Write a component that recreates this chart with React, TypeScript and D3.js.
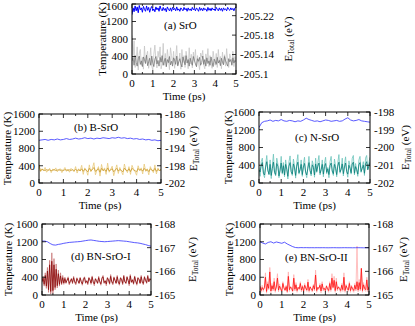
import { useEffect, useRef } from "react";
import * as d3 from "d3";

// time axis shared by all panels (ps)
const TIME_MAX = 5;
const TIME_TICKS = [0, 1, 2, 3, 4, 5];
const TIME_MINOR = [0.5, 1.5, 2.5, 3.5, 4.5];
const TEMP_TICKS = [0, 400, 800, 1200, 1600];

// (a) SrO
const srOLight = [880, 420, 760, 150, 300, 620, 90, 480, 560, 200, 380, 110, 640, 250, 420, 520, 130, 300, 600, 180, 90, 450, 660, 300, 140, 520, 380, 620, 120, 250, 700, 200, 470, 160, 560, 330, 100, 600, 420, 240, 520, 130, 380, 650, 180, 300, 480, 110, 560, 260, 420, 150, 520, 350, 120, 600, 230, 450, 140, 500, 300, 560, 160, 420, 250, 100, 480, 380, 540, 200, 120, 460, 300, 580, 170, 420, 260, 130, 520, 340, 200, 470, 150, 560, 280, 400, 120, 500, 230, 440, 180, 580, 300, 150, 460, 360, 220, 520, 170, 400, 300];
const srODark = [300, 380, 200, 420, 260, 180, 350, 410, 220, 300, 170, 390, 330, 240, 430, 190, 280, 360, 200, 410, 250, 170, 340, 400, 230, 310, 180, 380, 270, 420, 200, 300, 360, 170, 330, 260, 400, 210, 290, 180, 370, 320, 220, 410, 190, 280, 350, 240, 160, 390, 300, 210, 420, 250, 330, 180, 360, 270, 200, 400, 310, 230, 170, 350, 290, 380, 200, 260, 410, 220, 330, 180, 370, 240, 300, 200, 390, 260, 170, 340, 290, 220, 380, 250, 310, 190, 360, 270, 210, 400, 300, 240, 180, 350, 280, 330, 200, 370, 250, 310, 280];
const srOEnergy = [-205.222, -205.236, -205.228, -205.24, -205.23, -205.238, -205.226, -205.241, -205.232, -205.236, -205.227, -205.239, -205.233, -205.229, -205.24, -205.231, -205.237, -205.227, -205.235, -205.239, -205.23, -205.234, -205.228, -205.238, -205.232, -205.236, -205.229, -205.24, -205.233, -205.23, -205.237, -205.231, -205.235, -205.228, -205.238, -205.233, -205.23, -205.236, -205.229, -205.237, -205.232, -205.235, -205.23, -205.238, -205.231, -205.234, -205.229, -205.236, -205.233, -205.23, -205.237, -205.232, -205.235, -205.229, -205.236, -205.231, -205.234, -205.23, -205.237, -205.232, -205.235, -205.23, -205.236, -205.233, -205.229, -205.237, -205.231, -205.235, -205.23, -205.236, -205.232, -205.234, -205.229, -205.237, -205.231, -205.235, -205.23, -205.236, -205.232, -205.234, -205.23, -205.237, -205.233, -205.23, -205.236, -205.231, -205.235, -205.229, -205.236, -205.232, -205.234, -205.23, -205.237, -205.233, -205.231, -205.236, -205.232, -205.235, -205.23, -205.236, -205.238];
const srOEnergyTicks = [-205.1, -205.14, -205.18, -205.22];

// (b) B-SrO
const bLight = [430, 260, 330, 280, 360, 250, 300, 340, 240, 320, 290, 350, 260, 310, 330, 240, 300, 360, 270, 320, 250, 340, 300, 260, 380, 230, 330, 290, 410, 200, 350, 300, 180, 420, 260, 340, 470, 190, 300, 380, 160, 430, 280, 350, 200, 460, 250, 320, 390, 170, 300, 420, 220, 360, 270, 190, 440, 300, 240, 380, 200, 410, 320, 260, 180, 400, 290, 350, 210, 440, 270, 330, 190, 380, 300, 240, 420, 210, 350, 280, 330];
const bDark = [400, 280, 320, 300, 290, 310, 295, 305, 285, 300, 310, 290, 300, 305, 295, 300, 290, 310, 300, 295, 305, 290, 310, 285, 315, 290, 305, 280, 330, 270, 320, 295, 260, 340, 285, 310, 360, 270, 300, 330, 250, 340, 290, 310, 270, 350, 280, 305, 330, 260, 300, 340, 275, 315, 290, 260, 345, 300, 280, 330, 265, 340, 305, 285, 260, 335, 295, 315, 275, 340, 290, 310, 265, 330, 300, 280, 340, 270, 315, 290, 305];
const bEnergy = [-192.1, -192.0, -191.9, -192.1, -191.9, -192.0, -191.8, -192.0, -191.9, -191.7, -191.9, -191.8, -191.6, -191.8, -191.7, -191.5, -191.7, -191.6, -191.8, -191.6, -191.7, -191.5, -191.6, -191.7, -191.5, -191.6, -191.4, -191.6, -191.5, -191.7, -191.6, -191.8, -191.7, -191.9, -191.8, -192.0, -191.9, -192.1, -192.0, -192.2, -192.1];
const bEnergyTicks = [-202, -198, -194, -190, -186];

// (c) N-SrO
const cLight = [350, 150, 480, 560, 200, 120, 420, 620, 300, 180, 520, 100, 380, 650, 240, 160, 560, 430, 120, 300, 600, 200, 460, 140, 520, 330, 90, 480, 610, 250, 170, 540, 380, 110, 450, 640, 200, 300, 520, 150, 420, 580, 230, 120, 360, 600, 280, 160, 500, 400, 130, 560, 240, 460, 620, 180, 300, 520, 140, 440, 580, 210, 350, 120, 480, 600, 260, 170, 540, 380, 140, 460, 640, 220, 310, 560, 160, 420, 590, 250, 130, 500, 380, 200, 560, 620, 180, 440, 300, 150, 520, 600, 240, 360, 480, 170, 560, 620, 300, 450, 580];
const cDark = [300, 250, 400, 460, 220, 180, 360, 480, 280, 200, 420, 170, 330, 470, 240, 190, 440, 380, 160, 290, 450, 230, 390, 180, 420, 310, 150, 380, 460, 260, 200, 430, 340, 170, 380, 470, 230, 300, 420, 190, 360, 440, 250, 180, 330, 460, 280, 200, 410, 350, 180, 430, 260, 380, 450, 220, 300, 420, 200, 370, 440, 240, 320, 190, 390, 450, 270, 210, 420, 330, 190, 380, 470, 250, 310, 430, 210, 360, 450, 260, 200, 400, 330, 230, 430, 470, 220, 370, 300, 200, 410, 460, 260, 330, 400, 220, 430, 480, 300, 380, 470];
const cEnergy = [-198.875, -198.6, -198.525, -198.5, -198.45, -198.525, -198.475, -198.5, -198.425, -198.5, -198.525, -198.475, -198.5, -198.55, -198.5, -198.525, -198.45, -198.35, -198.425, -198.475, -198.525, -198.5, -198.55, -198.5, -198.45, -198.475, -198.525, -198.5, -198.475, -198.525, -198.5, -198.4, -198.325, -198.45, -198.5, -198.475, -198.425, -198.5, -198.525, -198.55, -198.575];
const cEnergyTicks = [-202, -201, -200, -199, -198];

// (d) BN-SrO-I
const dLight = [280, 420, 200, 500, 150, 620, 60, 780, 20, 950, 40, 820, 120, 700, 160, 560, 200, 500, 230, 440, 240, 400, 260, 350, 410, 230, 300, 380, 250, 420, 280, 230, 390, 330, 250, 400, 300, 220, 370, 410, 260, 320, 230, 400, 350, 240, 430, 280, 210, 380, 330, 250, 420, 300, 220, 390, 440, 260, 320, 210, 400, 350, 240, 460, 290, 230, 410, 330, 250, 440, 280, 220, 400, 360, 230, 450, 300, 250, 420, 330, 210, 460, 280, 350, 240, 430, 310, 220, 400, 360, 250, 440, 280, 230, 420, 340, 260, 450, 300, 380, 330];
const dDark = [300, 380, 240, 440, 200, 540, 120, 680, 80, 760, 100, 680, 170, 580, 210, 480, 240, 430, 260, 390, 270, 370, 280, 330, 380, 260, 310, 360, 280, 390, 300, 260, 370, 320, 270, 380, 300, 250, 350, 390, 280, 320, 260, 380, 340, 270, 400, 300, 250, 360, 320, 270, 390, 300, 250, 370, 410, 280, 320, 250, 380, 340, 260, 420, 300, 260, 390, 330, 270, 410, 290, 250, 380, 350, 260, 420, 300, 270, 400, 330, 250, 430, 290, 340, 260, 410, 310, 250, 380, 350, 270, 410, 290, 260, 400, 330, 280, 420, 300, 360, 330];
const dEnergy = [-167.278, -167.278, -167.25, -167.175, -167.119, -167.109, -167.138, -167.156, -167.184, -167.203, -167.222, -167.231, -167.241, -167.25, -167.259, -167.278, -167.297, -167.316, -167.325, -167.306, -167.288, -167.269, -167.259, -167.25, -167.259, -167.269, -167.278, -167.288, -167.297, -167.288, -167.278, -167.269, -167.25, -167.231, -167.213, -167.203, -167.184, -167.156, -167.128, -167.091, -167.063];
const bnEnergyTicks = [-165, -166, -167, -168];

// (e) BN-SrO-II
const eLight = [150, 60, 220, 80, 180, 500, 40, 300, 120, 620, 50, 260, 90, 380, 60, 200, 480, 70, 250, 100, 60, 300, 140, 90, 220, 50, 520, 80, 200, 120, 60, 460, 90, 280, 60, 180, 110, 300, 70, 220, 50, 260, 130, 80, 350, 60, 200, 100, 70, 240, 90, 560, 60, 180, 120, 260, 50, 300, 90, 160, 70, 220, 110, 60, 300, 80, 480, 150, 420, 60, 380, 90, 200, 110, 60, 260, 80, 500, 60, 240, 120, 80, 300, 60, 220, 100, 60, 260, 90, 1100, 70, 350, 90, 600, 60, 280, 110, 80, 400, 70, 200];
const eDark = [200, 100, 170, 120, 160, 400, 80, 250, 150, 520, 90, 210, 130, 300, 100, 180, 380, 110, 200, 140, 90, 260, 160, 110, 190, 80, 420, 120, 180, 150, 90, 380, 130, 230, 100, 170, 140, 260, 110, 190, 90, 220, 160, 110, 290, 100, 180, 140, 100, 210, 130, 450, 100, 170, 150, 220, 90, 250, 130, 150, 100, 200, 140, 100, 260, 120, 380, 170, 330, 100, 300, 130, 180, 150, 100, 220, 120, 400, 100, 210, 150, 110, 260, 100, 190, 140, 100, 220, 130, 300, 110, 280, 130, 600, 100, 230, 150, 120, 340, 110, 180];
const eEnergy = [-167.25, -167.194, -167.156, -167.222, -167.25, -167.194, -167.241, -167.213, -167.184, -167.231, -167.156, -167.1, -167.044, -167.006, -166.997, -167.003, -166.999, -167.001, -166.997, -166.999, -166.997, -166.999, -166.997, -166.999, -166.997, -166.995, -166.997, -166.999, -166.997, -166.995, -166.997, -166.999, -166.997, -166.997, -166.995, -166.997, -166.999, -166.997, -166.995, -166.997, -166.997];

const FONT = "Liberation Serif, Times New Roman, serif";
const FONT_SIZE = 11;

const panels = [
  {
    id: "a", label: "(a) SrO", light: srOLight, dark: srODark, energy: srOEnergy,
    eDomain: [-205.1, -205.244], eTicks: srOEnergyTicks,
    lightColor: "#c6c6c6", darkColor: "#777777", energyColor: "#0000ff", energyWidth: 1,
    x0: 132, x1: 236, y0: 4, y1: 74, labelX: 164, labelY: 29, tempX: 102, eX: 288,
  },
  {
    id: "b", label: "(b) B-SrO", light: bLight, dark: bDark, energy: bEnergy,
    eDomain: [-202, -186], eTicks: bEnergyTicks,
    lightColor: "#e8c97a", darkColor: "#c9992c", energyColor: "#3030ff", energyWidth: 0.8,
    x0: 39, x1: 161, y0: 114, y1: 183, labelX: 74, labelY: 131, tempX: 7, eX: 193,
  },
  {
    id: "c", label: "(c) N-SrO", light: cLight, dark: cDark, energy: cEnergy,
    eDomain: [-202, -198], eTicks: cEnergyTicks,
    lightColor: "#6cc4bb", darkColor: "#0a7f7a", energyColor: "#3030ff", energyWidth: 0.8,
    x0: 259, x1: 370, y0: 112, y1: 183, labelX: 295, labelY: 141, tempX: 228, eX: 405,
  },
  {
    id: "d", label: "(d) BN-SrO-I", light: dLight, dark: dDark, energy: dEnergy,
    eDomain: [-165, -168], eTicks: bnEnergyTicks,
    lightColor: "#c97a7a", darkColor: "#8b0a0a", energyColor: "#3030ff", energyWidth: 0.8,
    x0: 42, x1: 151, y0: 224, y1: 295, labelX: 71, labelY: 260, tempX: 8, eX: 192,
  },
  {
    id: "e", label: "(e) BN-SrO-II", light: eLight, dark: eDark, energy: eEnergy,
    eDomain: [-165, -168], eTicks: bnEnergyTicks,
    lightColor: "#ffb0b0", darkColor: "#ff1010", energyColor: "#3030ff", energyWidth: 0.8,
    x0: 260, x1: 369, y0: 224, y1: 295, labelX: 285, labelY: 261, tempX: 229, eX: 403,
  },
];

const App = () => {
  const ref = useRef<SVGSVGElement>(null);

  useEffect(() => {
    const svg = d3.select(ref.current);
    svg.selectAll("*").remove();

    panels.forEach((p) => {
      const g = svg.append("g").attr("class", `panel-${p.id}`);
      const x = d3.scaleLinear().domain([0, TIME_MAX]).range([p.x0, p.x1]);
      const y = d3.scaleLinear().domain([0, 1600]).range([p.y1, p.y0]);
      const y2 = d3.scaleLinear().domain(p.eDomain).range([p.y1, p.y0]);

      g.append("clipPath")
        .attr("id", `clip-${p.id}`)
        .append("rect")
        .attr("x", p.x0)
        .attr("y", p.y0)
        .attr("width", p.x1 - p.x0)
        .attr("height", p.y1 - p.y0);

      const data = g.append("g").attr("clip-path", `url(#clip-${p.id})`);

      // samples are evenly spaced over 0..5 ps
      const tempLine = (arr: number[]) =>
        d3
          .line<number>()
          .x((_, i) => x((i * TIME_MAX) / (arr.length - 1)))
          .y((d) => y(d))(arr) as string;

      const energyLine = (arr: number[]) =>
        d3
          .line<number>()
          .x((_, i) => x((i * TIME_MAX) / (arr.length - 1)))
          .y((d) => y2(d))(arr) as string;

      data.append("path")
        .attr("d", tempLine(p.light))
        .attr("fill", "none")
        .attr("stroke", p.lightColor)
        .attr("stroke-width", 0.8);
      data.append("path")
        .attr("d", tempLine(p.dark))
        .attr("fill", "none")
        .attr("stroke", p.darkColor)
        .attr("stroke-width", 0.8);
      data.append("path")
        .attr("d", energyLine(p.energy))
        .attr("fill", "none")
        .attr("stroke", p.energyColor)
        .attr("stroke-width", p.energyWidth);

      // frame
      g.append("rect")
        .attr("x", p.x0)
        .attr("y", p.y0)
        .attr("width", p.x1 - p.x0)
        .attr("height", p.y1 - p.y0)
        .attr("fill", "none")
        .attr("stroke", "#000")
        .attr("stroke-width", 1);

      const ticks = g.append("g").attr("stroke", "#000").attr("stroke-width", 0.8);
      TIME_TICKS.forEach((t) => {
        ticks.append("line").attr("x1", x(t)).attr("x2", x(t)).attr("y1", p.y1).attr("y2", p.y1 - 4);
        ticks.append("line").attr("x1", x(t)).attr("x2", x(t)).attr("y1", p.y0).attr("y2", p.y0 + 4);
      });
      TIME_MINOR.forEach((t) => {
        ticks.append("line").attr("x1", x(t)).attr("x2", x(t)).attr("y1", p.y1).attr("y2", p.y1 - 2);
        ticks.append("line").attr("x1", x(t)).attr("x2", x(t)).attr("y1", p.y0).attr("y2", p.y0 + 2);
      });
      TEMP_TICKS.forEach((v) => {
        ticks.append("line").attr("x1", p.x0).attr("x2", p.x0 + 4).attr("y1", y(v)).attr("y2", y(v));
      });
      p.eTicks.forEach((v) => {
        ticks.append("line").attr("x1", p.x1).attr("x2", p.x1 - 4).attr("y1", y2(v)).attr("y2", y2(v));
      });

      const text = g.append("g").attr("font-family", FONT).attr("font-size", FONT_SIZE).attr("fill", "#000");

      TIME_TICKS.forEach((t) => {
        text.append("text").attr("x", x(t)).attr("y", p.y1 + 13).attr("text-anchor", "middle").text(t);
      });
      // keep the top label of the upper panel inside the picture
      TEMP_TICKS.forEach((v) => {
        text.append("text")
          .attr("x", p.x0 - 4)
          .attr("y", Math.max(y(v), 6))
          .attr("dy", "0.35em")
          .attr("text-anchor", "end")
          .text(v);
      });
      p.eTicks.forEach((v) => {
        text.append("text").attr("x", p.x1 + 4).attr("y", y2(v)).attr("dy", "0.35em").attr("text-anchor", "start").text(String(v));
      });

      text.append("text")
        .attr("x", (p.x0 + p.x1) / 2)
        .attr("y", p.y1 + 26)
        .attr("text-anchor", "middle")
        .text("Time (ps)");

      text.append("text")
        .attr("transform", `translate(${p.tempX},${(p.y0 + p.y1) / 2}) rotate(-90)`)
        .attr("dy", "0.35em")
        .attr("text-anchor", "middle")
        .text("Temperature (K)");

      const eLabel = text.append("text")
        .attr("transform", `translate(${p.eX},${(p.y0 + p.y1) / 2}) rotate(-90)`)
        .attr("dy", "0.35em")
        .attr("text-anchor", "middle");
      eLabel.append("tspan").text("E");
      eLabel.append("tspan").attr("font-size", 7.5).attr("dy", 2.5).text("Total");
      eLabel.append("tspan").attr("dy", -2.5).text(" (eV)");

      text.append("text").attr("x", p.labelX).attr("y", p.labelY).text(p.label);
    });
  }, []);

  return (
    <svg
      ref={ref}
      width={415}
      height={326}
      style={{ position: "absolute", left: 0, top: 0, background: "#fff" }}
    />
  );
};

export default App;
